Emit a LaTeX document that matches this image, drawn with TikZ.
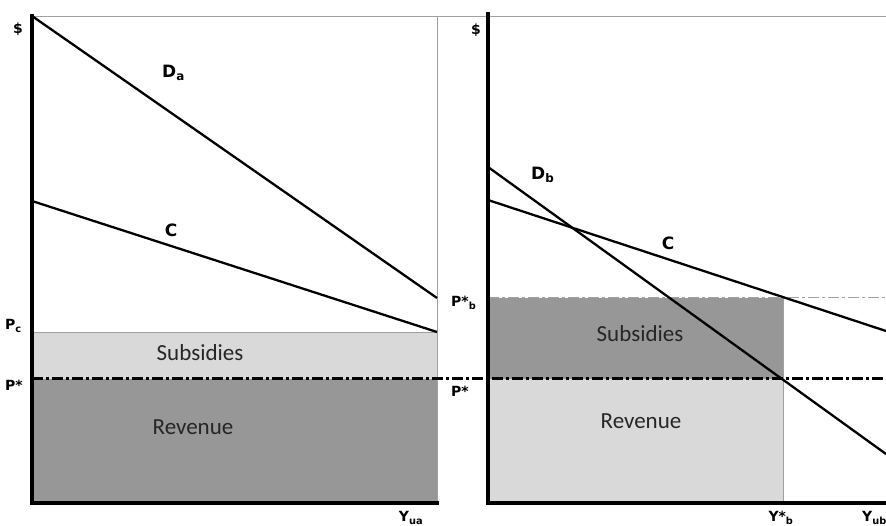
\documentclass[tikz,border=0pt]{standalone}
\usepackage{fontspec}
\setmainfont{DejaVu Sans}
\newfontfamily\calib{Carlito}
\definecolor{lightfill}{HTML}{D9D9D9}
\definecolor{darkfill}{HTML}{979797}
\definecolor{thingray}{HTML}{A0A0A0}
\begin{document}
\begin{tikzpicture}[x=1pt,y=-1pt,
  axis/.style={line width=4pt,line cap=rect},
  curve/.style={line width=2.3pt},
  frame/.style={line width=0.8pt,thingray},
  pstar/.style={line width=3pt,dash pattern=on 11pt off 3pt on 3pt off 3pt},
  pbline/.style={line width=1pt,thingray,dash pattern=on 11pt off 3pt on 3pt off 3pt},
  lbl/.style={font=\bfseries\fontsize{14}{15}\selectfont,inner sep=0pt},
  big/.style={font=\bfseries\fontsize{17}{18}\selectfont,inner sep=0pt},
  area/.style={font=\calib\fontsize{23}{24}\selectfont,text=black!85,inner sep=0pt}]
\useasboundingbox (0,0) rectangle (886,526);
% left panel coordinates
\coordinate (LO) at (32,503);
\coordinate (LT) at (32,16);
\coordinate (LR) at (437,503);
\coordinate (LRt) at (437,16);
\coordinate (DaE) at (437,298);
\coordinate (CaS) at (32,201);
\coordinate (CaE) at (437,332);
\coordinate (PcL) at (32,332);
% right panel coordinates
\coordinate (RO) at (488,503);
\coordinate (RT) at (488,14);
\coordinate (RR) at (886,503);
\coordinate (DbS) at (488,167);
\coordinate (DbE) at (886,454);
\coordinate (CbS) at (488,200);
\coordinate (CbE) at (886,331);
\coordinate (YS) at (783,503);
\coordinate (YSt) at (783,298);
\coordinate (PbL) at (488,298);
\coordinate (PbR) at (886,298);
\coordinate (TopR) at (886,16);
\coordinate (PsL) at (32,379);
\coordinate (PsR) at (886,379);
% fills
\fill[lightfill] (PcL) rectangle (437,379);
\fill[darkfill] (PsL) rectangle (LR);
\fill[darkfill] (PbL) rectangle (783,379);
\fill[lightfill] (488,379) rectangle (YS);
% frame lines
\draw[frame] (LT) -- (TopR);
\draw[frame] (LRt) -- (LR);
\draw[frame] (PcL) -- (CaE);
\draw[frame] (YSt) -- (YS);
\draw[pbline] (PbL) -- (PbR);
% curves
\draw[curve] (LT) -- (DaE);
\draw[curve] (CaS) -- (CaE);
\draw[curve] (DbS) -- (DbE);
\draw[curve] (CbS) -- (CbE);
% P* line
\draw[pstar] (PsL) -- (PsR);
% axes
\draw[axis] (LT) -- (LO) -- (LR);
\draw[axis] (RT) -- (RO) -- (RR);
% labels
\node[lbl] (dl) at (18,29) {\$};
\node[lbl] (dr) at (476,30) {\$};
\node[big,anchor=west] (Da) at (162,73) {D\textsubscript{a}};
\node[big] (Ca) at (171,230) {C};
\node[big,anchor=west] (Db) at (531,175) {D\textsubscript{b}};
\node[big] (Cb) at (668,243) {C};
\node[lbl,anchor=west] (Pc) at (5,326) {P\textsubscript{c}};
\node[lbl,anchor=west] (Psl) at (5,385) {P*};
\node[lbl,anchor=west] (Pb) at (451,303) {P*\textsubscript{b}};
\node[lbl,anchor=west] (Psr) at (451,391) {P*};
\node[lbl] (Yua) at (411,518) {Y\textsubscript{ua}};
\node[lbl] (Yb) at (781,518) {Y*\textsubscript{b}};
\node[lbl,anchor=west] (Yub) at (862,518) {Y\textsubscript{ub}};
\node[area] (Sl) at (200,353) {Subsidies};
\node[area] (Rl) at (193,427) {Revenue};
\node[area] (Sr) at (640,334) {Subsidies};
\node[area] (Rr) at (641,421) {Revenue};
\end{tikzpicture}
\end{document}
